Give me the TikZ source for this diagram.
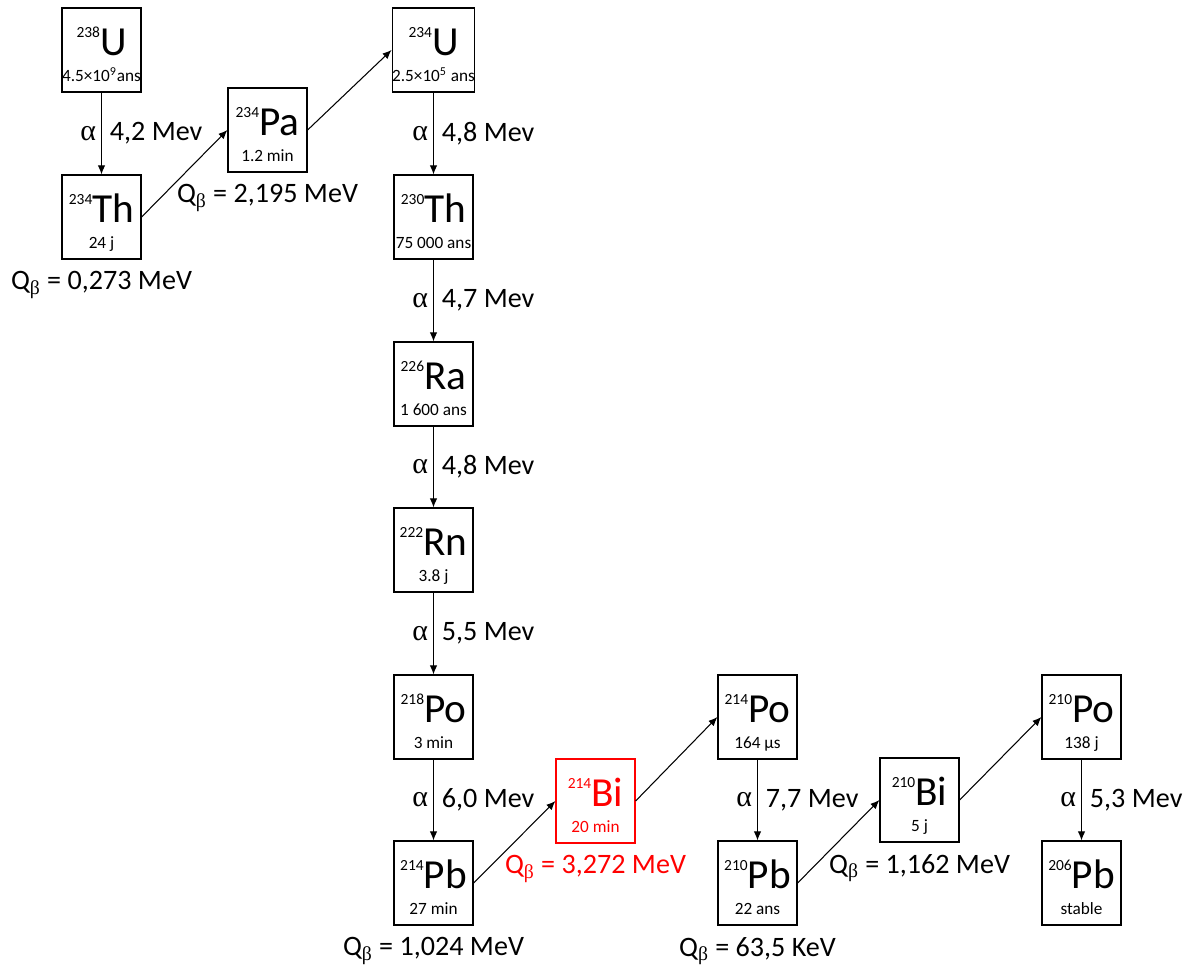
\documentclass[tikz,border=0pt]{standalone}
\usepackage{fontspec}
\setmainfont{Carlito}
\newfontfamily\grk{Liberation Serif}
\usetikzlibrary{arrows.meta,positioning}

\newcommand{\iso}[3]{\rule{0pt}{21pt}\raisebox{10pt}{\fontsize{8.8}{9}\selectfont #1}{\fontsize{23.5}{24}\selectfont #2}\\\smash{#3}}
\newcommand{\qb}[1]{Q\textsubscript{\grk β} = #1}

\tikzset{
  box/.style={draw, line width=0.7pt, minimum width=1.58cm, minimum height=1.68cm,
    inner sep=0pt, align=center, font=\fontsize{9.8}{15.3}\selectfont},
  decay/.style={-{Latex[length=1.8mm,width=1.5mm]}, line width=0.6pt},
  alab/.style={left=2.8pt, inner sep=0pt, font=\fontsize{17}{18}\selectfont\grk},
  elab/.style={right=4.5pt, inner sep=0pt, font=\fontsize{16}{18}\selectfont},
  qlab/.style={below=6.5pt of #1, inner sep=0pt, font=\fontsize{16}{18}\selectfont},
}

\begin{document}
\begin{tikzpicture}[x=0.02cm, y=-0.02cm]
        \useasboundingbox (0,0) rectangle (1189,964);
        % uranium 238 branch
        \node[box] (u238) at (101.5,50) {\iso{238}{U}{4.5×10\textsuperscript{9}ans}};
        \node[box] (th234) at (101.5,217) {\iso{234}{Th}{24 j}};
        \node[box] (pa234) at (267.5,130) {\iso{234}{Pa}{1.2 min}};
        % main column
        \node[box] (u234) at (433.5,50) {\iso{234}{U}{2.5×10\textsuperscript{5} ans}};
        \node[box] (th230) at (433.5,217) {\iso{230}{Th}{75 000 ans}};
        \node[box] (ra226) at (433.5,384) {\iso{226}{Ra}{1 600 ans}};
        \node[box] (rn222) at (433.5,550) {\iso{222}{Rn}{3.8 j}};
        \node[box] (po218) at (433.5,717) {\iso{218}{Po}{3 min}};
        \node[box] (pb214) at (433.5,883) {\iso{214}{Pb}{27 min}};
        \node[box, draw=red, text=red] (bi214) at (595.5,801) {\iso{214}{Bi}{20 min}};
        \node[box] (po214) at (757.5,717) {\iso{214}{Po}{164 µs}};
        \node[box] (pb210) at (757.5,883) {\iso{210}{Pb}{22 ans}};
        \node[box] (bi210) at (919.5,800) {\iso{210}{Bi}{5 j}};
        \node[box] (po210) at (1081.5,717) {\iso{210}{Po}{138 j}};
        \node[box] (pb206) at (1081.5,883) {\iso{206}{Pb}{stable}};
        % alpha decays
        \draw[decay] (u238) -- node[alab] (a1) {α} node[elab] (e1) {4,2 Mev} (th234);
        \draw[decay] (u234) -- node[alab] (a2) {α} node[elab] (e2) {4,8 Mev} (th230);
        \draw[decay] (th230) -- node[alab] (a3) {α} node[elab] (e3) {4,7 Mev} (ra226);
        \draw[decay] (ra226) -- node[alab] (a4) {α} node[elab] (e4) {4,8 Mev} (rn222);
        \draw[decay] (rn222) -- node[alab] (a5) {α} node[elab] (e5) {5,5 Mev} (po218);
        \draw[decay] (po218) -- node[alab] (a6) {α} node[elab] (e6) {6,0 Mev} (pb214);
        \draw[decay] (po214) -- node[alab] (a7) {α} node[elab] (e7) {7,7 Mev} (pb210);
        \draw[decay] (po210) -- node[alab] (a8) {α} node[elab] (e8) {5,3 Mev} (pb206);
        % beta decays
        \draw[decay] (th234.east) -- (pa234.west);
        \draw[decay] (pa234.east) -- (u234.west);
        \draw[decay] (pb214.east) -- (bi214.west);
        \draw[decay] (bi214.east) -- (po214.west);
        \draw[decay] (pb210.east) -- (bi210.west);
        \draw[decay] (bi210.east) -- (po210.west);
        % Q values
        \node[qlab=th234] (qth234) {\qb{0,273 MeV}};
        \node[qlab=pa234] (qpa234) {\qb{2,195 MeV}};
        \node[qlab=pb214] (qpb214) {\qb{1,024 MeV}};
        \node[qlab=bi214, text=red] (qbi214) {\qb{3,272 MeV}};
        \node[qlab=pb210] (qpb210) {\qb{63,5 KeV}};
        \node[qlab=bi210] (qbi210) {\qb{1,162 MeV}};
\end{tikzpicture}
\end{document}
